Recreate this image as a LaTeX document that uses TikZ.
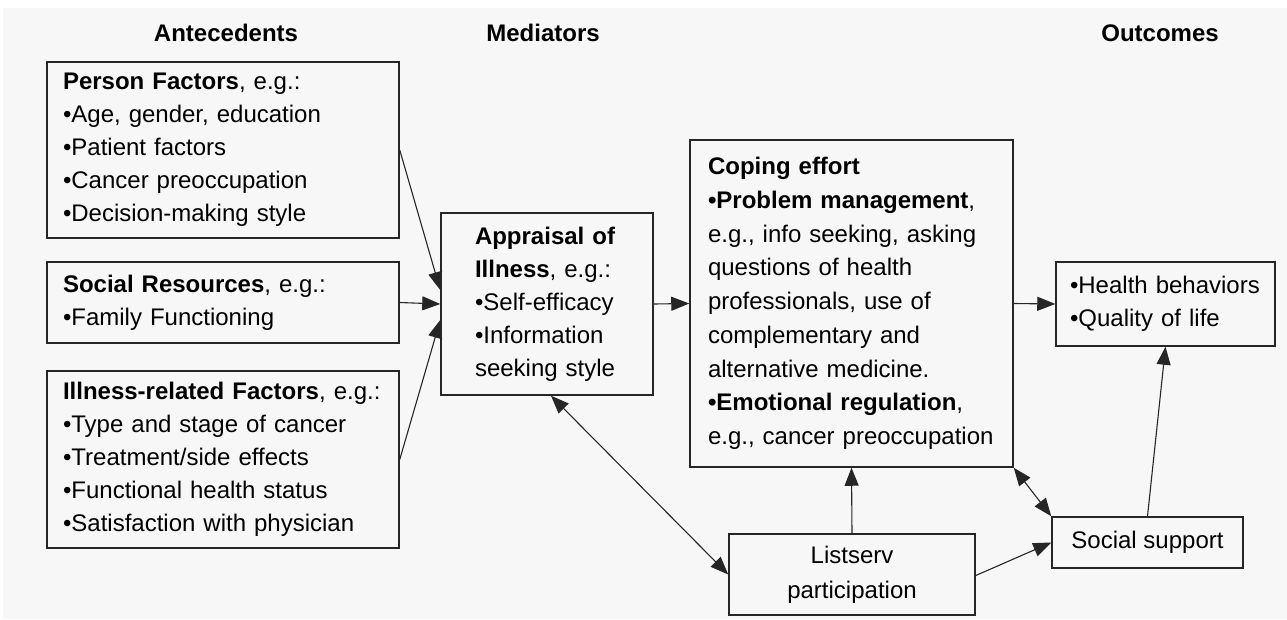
\documentclass[tikz,border=0pt]{standalone}
\usepackage{fontspec}
\setmainfont{Liberation Sans}
\usetikzlibrary{arrows.meta}
\definecolor{paper}{RGB}{247,247,247}

\begin{document}
\begin{tikzpicture}[
    x=1pt, y=-1pt,
    >={Triangle[length=18pt,width=14pt]},
    box/.style={
        draw=black!85,
        line width=1.5pt,
        align=left,
        inner ysep=0pt,
        font=\fontsize{24}{33}\selectfont
    },
    head/.style={font=\fontsize{24}{29}\selectfont\bfseries},
    link/.style={line width=1.1pt, black!85}
]

    \useasboundingbox (0,0) rectangle (1287,619);
    \fill[paper] (3,8) rectangle (1287,619);

    % Titols
    \node[head] (antehead) at (226,33) {Antecedents};
    \node[head] (medhead) at (543,33) {Mediators};
    \node[head] (outhead) at (1160,33) {Outcomes};

    % Antecedents
    \node[box, text width=320pt, inner xsep=16pt, minimum height=176pt] (person) at (223,150)
        {\textbf{Person Factors}, e.g.:\\ •Age, gender, education\\ •Patient factors\\
         •Cancer preoccupation\\ •Decision-making style};
    \node[box, text width=320pt, inner xsep=16pt, minimum height=81pt] (social) at (223,302.5)
        {\textbf{Social Resources}, e.g.:\\ •Family Functioning};
    \node[box, text width=320pt, inner xsep=16pt, minimum height=177pt] (illness) at (223,459.5)
        {\textbf{Illness-related Factors}, e.g.:\\ •Type and stage of cancer\\
         •Treatment/side effects\\ •Functional health status\\ •Satisfaction with physician};

    % Mediadors
    \node[box, text width=144pt, inner xsep=34pt, minimum height=182pt] (appraisal) at (547,304)
        {\textbf{Appraisal of}\\ \textbf{Illness}, e.g.:\\ •Self-efficacy\\ •Information\\ seeking style};
    \node[box, text width=287pt, inner xsep=18pt, minimum height=327pt,
          font=\fontsize{24}{33.75}\selectfont] (coping) at (851.5,303.5)
        {\textbf{Coping effort}\\ \textbf{•Problem management},\\ e.g., info seeking, asking\\
         questions of health\\ professionals, use of\\ complementary and\\
         alternative medicine.\\ \textbf{•Emotional regulation},\\ \mbox{e.g., cancer preoccupation}};
    \node[box, align=center, minimum width=246pt, minimum height=81pt,
          font=\fontsize{24}{35}\selectfont] (listserv) at (852,574.5)
        {Listserv\\ participation};

    % Resultats
    \node[box, text width=191pt, inner xsep=14pt, minimum height=84pt] (health) at (1165.5,304)
        {•Health behaviors\\ •Quality of life};
    \node[box, align=center, minimum width=191pt, minimum height=51pt] (support) at (1147.5,542.5)
        {Social support};

    % Fletxes
    \draw[->, link] (person.east) -- ([yshift=14pt]appraisal.west);
    \draw[->, link] (social.east) -- (appraisal.west);
    \draw[->, link] (illness.east) -- ([yshift=-16pt]appraisal.west);
    \draw[->, link] (appraisal.east) -- (coping.west);
    \draw[->, link] (coping.east) -- (health.west);
    \draw[->, link] (listserv.north) -- (coping.south);
    \draw[<->, link] ([xshift=4pt]appraisal.south) -- (listserv.west);
    \draw[<->, link] (coping.south east) -- (support.north west);
    \draw[->, link] ([yshift=-1pt]listserv.east) -- (support.west);
    \draw[->, link] (support.north) -- (health.south);

\end{tikzpicture}
\end{document}
